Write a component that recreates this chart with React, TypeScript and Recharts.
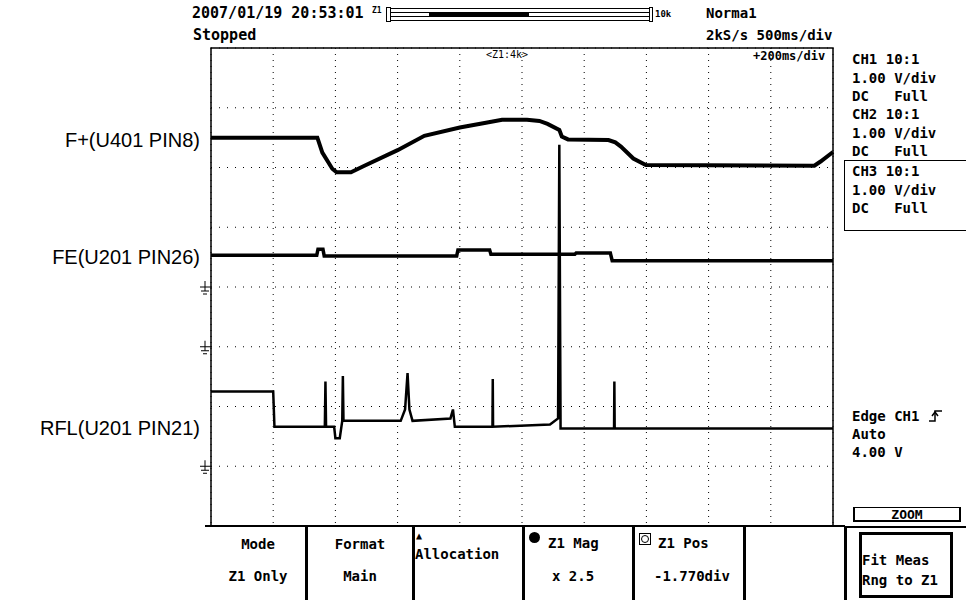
import React from "react";
import {
  LineChart,
  Line,
  XAxis,
  YAxis,
  CartesianGrid,
  ReferenceArea,
  ReferenceDot,
} from "recharts";

// time axis in divisions (10 div), voltage axis in divisions (8 div)
const xTicks = [0, 1, 2, 3, 4, 5, 6, 7, 8, 9, 10];
const yTicks = [0, 1, 2, 3, 4, 5, 6, 7, 8];
const groundLevels = [1, 3, 4];

// CH1  F+(U401 PIN8)
const fPlusT = [0, 1.71, 1.79, 1.95, 2.02, 2.25, 2.45, 3.0, 3.43, 4.0, 4.42, 4.68, 5.08, 5.28, 5.41, 5.6, 5.64, 5.74, 6.39, 6.5, 6.59, 6.79, 6.99, 9.7, 9.8, 10];
const fPlusV = [6.5, 6.5, 6.25, 5.98, 5.92, 5.92, 6.02, 6.29, 6.53, 6.67, 6.75, 6.8, 6.8, 6.78, 6.73, 6.63, 6.52, 6.47, 6.46, 6.42, 6.35, 6.15, 6.04, 6.03, 6.1, 6.26];

// CH2  FE(U201 PIN26)
const feT = [0, 1.7, 1.72, 1.8, 1.82, 3.95, 3.97, 4.48, 4.5, 5.85, 5.87, 6.42, 6.45, 10];
const feV = [4.53, 4.53, 4.63, 4.63, 4.52, 4.52, 4.62, 4.62, 4.55, 4.55, 4.57, 4.57, 4.44, 4.44];

// CH3  RFL(U201 PIN21)
const rflT = [0, 1.0, 1.02, 1.83, 1.84, 1.85, 1.98, 2.0, 2.07, 2.11, 2.12, 2.13, 3.05, 3.12, 3.16, 3.19, 3.24, 3.85, 3.89, 3.92, 4.525, 4.53, 4.535, 5.45, 5.58, 5.6, 5.62, 6.48, 6.485, 6.49, 10];
const rflV = [2.25, 2.25, 1.66, 1.66, 2.42, 1.66, 1.66, 1.47, 1.47, 1.76, 2.51, 1.76, 1.76, 1.95, 2.56, 1.95, 1.76, 1.8, 1.95, 1.66, 1.66, 2.46, 1.66, 1.7, 1.8, 6.38, 1.63, 1.63, 2.42, 1.63, 1.63];

const toRows = (t: number[], v: number[]) => t.map((x, i) => ({ t: x, v: v[i] }));
const fPlus = toRows(fPlusT, fPlusV);
const fe = toRows(feT, feV);
const rfl = toRows(rflT, rflV);

const mono = '"DejaVu Sans Mono", monospace';
const sans = '"Liberation Sans", Arial, sans-serif';

const T = ({ x, y, size = 13, font = mono, bold = true, children, style }: any) => (
  <div
    style={{
      position: "absolute",
      left: x,
      top: y,
      fontFamily: font,
      fontSize: size,
      fontWeight: bold ? "bold" : "normal",
      lineHeight: 1,
      whiteSpace: "pre",
      color: "#000",
      ...style,
    }}
  >
    {children}
  </div>
);

const Box = ({ x, y, w, h, style }: any) => (
  <div
    style={{
      position: "absolute",
      left: x,
      top: y,
      width: w,
      height: h,
      boxSizing: "border-box",
      ...style,
    }}
  />
);

// ground marker drawn left of the frame at each channel's 0 V level
const GroundShape = ({ cx, cy }: any) => (
  <g stroke="#000" strokeWidth={1} fill="none">
    <line x1={cx - 11} x2={cx} y1={cy} y2={cy} />
    <line x1={cx - 6} x2={cx - 6} y1={cy - 6} y2={cy + 4} />
    <line x1={cx - 10} x2={cx - 2} y1={cy + 4} y2={cy + 4} />
    <line x1={cx - 8} x2={cx - 4} y1={cy + 7} y2={cy + 7} />
  </g>
);

export default function App() {
  return (
    <div
      style={{
        position: "absolute",
        left: 0,
        top: 0,
        width: 966,
        height: 600,
        background: "#fff",
        overflow: "hidden",
      }}
    >
      <LineChart
        width={966}
        height={600}
        margin={{ top: 48, right: 133, bottom: 74, left: 211 }}
      >
        <XAxis dataKey="t" type="number" domain={[0, 10]} ticks={xTicks} hide />
        <YAxis type="number" domain={[0, 8]} ticks={yTicks} hide />
        <CartesianGrid horizontal={false} stroke="#000" strokeDasharray="1 5" />
        <CartesianGrid vertical={false} stroke="#000" strokeDasharray="1 7" />
        <ReferenceArea
          x1={0}
          x2={10}
          y1={0}
          y2={8}
          fill="none"
          fillOpacity={0}
          stroke="#000"
          strokeWidth={1.5}
        />
        {groundLevels.map((g) => (
          <ReferenceDot
            key={g}
            x={0}
            y={g}
            r={0}
            ifOverflow="visible"
            shape={(p: any) => <GroundShape {...p} />}
          />
        ))}
        <Line data={fPlus} dataKey="v" type="linear" stroke="#000" strokeWidth={4} dot={false} isAnimationActive={false} />
        <Line data={fe} dataKey="v" type="linear" stroke="#000" strokeWidth={3.5} dot={false} isAnimationActive={false} />
        <Line data={rfl} dataKey="v" type="linear" stroke="#000" strokeWidth={2.5} dot={false} isAnimationActive={false} />
      </LineChart>

      {/* header */}
      <T x={192} y={6} size={15}>2007/01/19 20:53:01</T>
      <T x={372} y={7} size={8}>Z1</T>
      <Box x={386} y={7} w={5} h={15} style={{ border: "1px solid #000" }} />
      <Box x={391} y={8} w={258} h={13} style={{ borderTop: "1px solid #000", borderBottom: "1px solid #000" }} />
      <Box x={391} y={12} w={258} h={5} style={{ borderTop: "1px solid #000", borderBottom: "1px solid #000" }} />
      <Box x={429} y={12} w={100} h={5} style={{ background: "#000" }} />
      <Box x={649} y={7} w={4} h={15} style={{ border: "1px solid #000" }} />
      <T x={655} y={10} size={9}>10k</T>
      <T x={706} y={6} size={14}>Norma1</T>
      <T x={193} y={28} size={15}>Stopped</T>
      <T x={706} y={28} size={14}>2kS/s 500ms/div</T>
      <T x={486} y={50} size={10} bold={false}>{"<Z1:4k>"}</T>
      <T x={753} y={50} size={12}>+200ms/div</T>

      {/* channel labels */}
      <T x={0} y={130} size={20} font={sans} bold={false} style={{ width: 200, textAlign: "right" }}>F+(U401 PIN8)</T>
      <T x={0} y={247} size={20} font={sans} bold={false} style={{ width: 200, textAlign: "right" }}>FE(U201 PIN26)</T>
      <T x={0} y={418} size={20} font={sans} bold={false} style={{ width: 200, textAlign: "right" }}>RFL(U201 PIN21)</T>

      {/* right panel */}
      <T x={852} y={52} size={14}>CH1 10:1</T>
      <T x={852} y={71} size={14}>1.00 V/div</T>
      <T x={852} y={89} size={14}>DC   Full</T>
      <T x={852} y={107} size={14}>CH2 10:1</T>
      <T x={852} y={126} size={14}>1.00 V/div</T>
      <T x={852} y={144} size={14}>DC   Full</T>
      <Box x={844} y={160} w={130} h={71} style={{ border: "1px solid #000" }} />
      <T x={852} y={164} size={14}>CH3 10:1</T>
      <T x={852} y={183} size={14}>1.00 V/div</T>
      <T x={852} y={201} size={14}>DC   Full</T>

      <T x={852} y={409} size={14}>Edge CH1</T>
      <svg style={{ position: "absolute", left: 928, top: 409 }} width={16} height={14}>
        <path d="M1 12 H7 V2 H14" stroke="#000" strokeWidth={1.5} fill="none" />
        <path d="M4 7 L7 3 L10 7" stroke="#000" strokeWidth={1.5} fill="none" />
      </svg>
      <T x={852} y={427} size={14}>Auto</T>
      <T x={852} y={445} size={14}>4.00 V</T>

      <Box x={853} y={507} w={108} h={15} style={{ borderLeft: "2px solid #000", borderRight: "2px solid #000", borderTop: "1px solid #000", borderBottom: "2px solid #000" }} />
      <T x={853} y={508} size={13} style={{ width: 108, textAlign: "center" }}>ZOOM</T>

      {/* bottom menu */}
      <Box x={205} y={525} w={640} h={2} style={{ background: "#000" }} />
      {[305, 412, 522, 632, 743].map((x) => (
        <Box key={x} x={x} y={526} w={3} h={74} style={{ background: "#000" }} />
      ))}
      <Box x={844} y={526} w={122} h={74} style={{ borderLeft: "3px solid #000", borderTop: "2px solid #000" }} />
      <Box x={859} y={532} w={94} h={66} style={{ border: "3px solid #000" }} />
      <T x={862} y={553} size={14}>Fit Meas</T>
      <T x={862} y={573} size={14}>Rng to Z1</T>

      <T x={211} y={537} size={14} style={{ width: 94, textAlign: "center" }}>Mode</T>
      <T x={211} y={569} size={14} style={{ width: 94, textAlign: "center" }}>Z1 Only</T>
      <T x={308} y={537} size={14} style={{ width: 104, textAlign: "center" }}>Format</T>
      <T x={308} y={569} size={14} style={{ width: 104, textAlign: "center" }}>Main</T>
      <T x={416} y={531} size={10}>▲</T>
      <T x={415} y={547} size={14}>Allocation</T>
      <div style={{ position: "absolute", left: 529, top: 532, width: 11, height: 11, borderRadius: 6, background: "#000" }} />
      <T x={548} y={536} size={14}>Z1 Mag</T>
      <T x={552} y={569} size={14}>x 2.5</T>
      <Box x={639} y={533} w={12} h={12} style={{ border: "1px solid #000" }} />
      <div style={{ position: "absolute", left: 641, top: 535, width: 8, height: 8, borderRadius: 5, border: "1px solid #000", boxSizing: "border-box" }} />
      <T x={658} y={536} size={14}>Z1 Pos</T>
      <T x={654} y={569} size={14}>-1.770div</T>
    </div>
  );
}
